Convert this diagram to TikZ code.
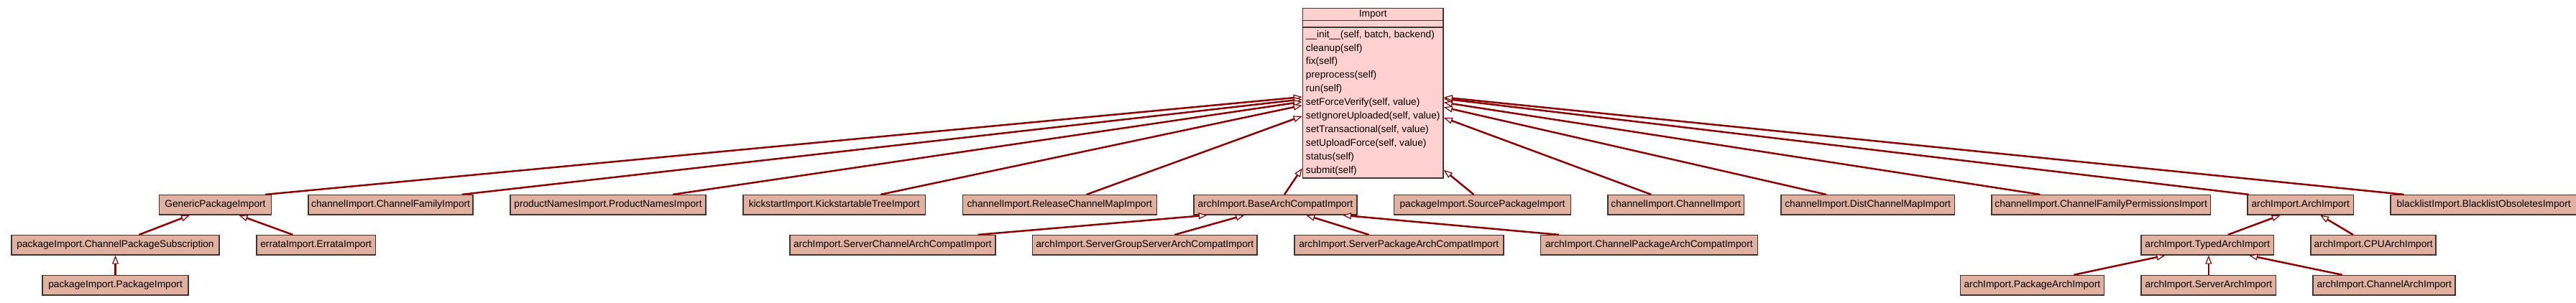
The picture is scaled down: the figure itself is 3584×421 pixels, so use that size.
\documentclass[tikz,border=0pt]{standalone}
\usepackage{fontspec}
\setmainfont{Liberation Sans}
\usetikzlibrary{arrows.meta,positioning,shapes.multipart}
\definecolor{edgered}{HTML}{8B0000}
\definecolor{boxfill}{HTML}{E0B0A0}
\definecolor{importfill}{HTML}{FFD0D0}
\definecolor{boxline}{HTML}{403530}

\begin{document}
\begin{tikzpicture}[x=1pt, y=-1pt, node distance=50.2pt,
  font=\fontsize{13.7}{16}\selectfont,
  cls/.style={draw=boxline, line width=1.5pt, fill=boxfill, inner xsep=3pt, inner ysep=0pt, minimum height=27.3pt, minimum width=#1},
  cls/.default=150pt,
  isa/.style={draw=edgered, line width=2.5pt, -{Triangle[open, fill=white, length=12pt, width=9pt, line width=1.2pt]}}]
  \useasboundingbox (0,0) rectangle (3584,421);
  % base class
  \node[draw=boxline, line width=1.5pt, fill=importfill, rectangle split, rectangle split parts=3, inner xsep=4.5pt, inner ysep=0pt, anchor=north west] (Import) at (1811.7,10.7)
    {\rule[-4pt]{0pt}{15.3pt}Import
     \nodepart{two}\rule{0pt}{8.3pt}
     \nodepart{three}\fontsize{13.7}{18.95}\selectfont\begin{tabular}{@{}l@{}}
       \_\_init\_\_(self, batch, backend)\\ cleanup(self)\\ fix(self)\\ preprocess(self)\\ run(self)\\
       setForceVerify(self, value)\\ setIgnoreUploaded(self, value)\\ setTransactional(self, value)\\
       setUploadForce(self, value)\\ status(self)\\ submit(self)
     \end{tabular}};
  % first row
  \node[cls=156pt, anchor=west] (Generic) at (220.7,285.3) {GenericPackageImport};
  \node[cls=229pt, right=of Generic] (ChannelFamily) {channelImport.ChannelFamilyImport};
  \node[cls=272.3pt, right=of ChannelFamily] (ProductNames) {productNamesImport.ProductNamesImport};
  \node[cls=253.7pt, right=of ProductNames] (Kickstart) {kickstartImport.KickstartableTreeImport};
  \node[cls=270pt, right=of Kickstart] (ReleaseMap) {channelImport.ReleaseChannelMapImport};
  \node[cls=227pt, right=of ReleaseMap] (BaseArch) {archImport.BaseArchCompatImport};
  \node[cls=245.7pt, right=of BaseArch] (SourcePkg) {packageImport.SourcePackageImport};
  \node[cls=189.3pt, right=of SourcePkg] (Channel) {channelImport.ChannelImport};
  \node[cls=241.2pt, right=of Channel] (DistMap) {channelImport.DistChannelMapImport};
  \node[cls=304.4pt, right=of DistMap] (FamilyPerm) {channelImport.ChannelFamilyPermissionsImport};
  \node[cls=147.3pt, right=of FamilyPerm] (Arch) {archImport.ArchImport};
  \node[cls=259pt, right=of Arch] (Blacklist) {blacklistImport.BlacklistObsoletesImport};
  % second row
  \node[cls=289pt, anchor=west] (PkgSubscr) at (15.3,341.3) {packageImport.ChannelPackageSubscription};
  \node[cls=165.7pt, right=of PkgSubscr] (Errata) {errataImport.ErrataImport};
  \node[cls=285.7pt, anchor=west] (SrvChanCompat) at (1098.3,341.3) {archImport.ServerChannelArchCompatImport};
  \node[cls=312.6pt, right=of SrvChanCompat] (SrvGroupCompat) {archImport.ServerGroupServerArchCompatImport};
  \node[cls=291pt, right=of SrvGroupCompat] (SrvPkgCompat) {archImport.ServerPackageArchCompatImport};
  \node[cls=301.8pt, right=of SrvPkgCompat] (ChanPkgCompat) {archImport.ChannelPackageArchCompatImport};
  \node[cls=184.4pt, anchor=west] (TypedArch) at (2978.3,341.3) {archImport.TypedArchImport};
  \node[cls=174pt, right=of TypedArch] (CPUArch) {archImport.CPUArchImport};
  % third row
  \node[cls=203pt, anchor=west] (Package) at (58.3,397.2) {packageImport.PackageImport};
  \node[cls=200.2pt, anchor=west] (PkgArch) at (2726.5,397.2) {archImport.PackageArchImport};
  \node[cls=187.3pt, right=of PkgArch] (SrvArch) {archImport.ServerArchImport};
  \node[cls=198pt, right=of SrvArch] (ChanArch) {archImport.ChannelArchImport};
  % inheritance to Import
  \draw[isa] ([xshift=69.6pt]Generic.north) -- ([yshift=-124.3pt]Import.north west);
  \draw[isa] ([xshift=99pt]ChannelFamily.north) -- ([yshift=-127.6pt]Import.north west);
  \draw[isa] ([xshift=90.2pt]ProductNames.north) -- ([yshift=-131pt]Import.north west);
  \draw[isa] ([xshift=64.5pt]Kickstart.north) -- ([yshift=-136pt]Import.north west);
  \draw[isa] ([xshift=37.5pt]ReleaseMap.north) -- ([yshift=-151pt]Import.north west);
  \draw[isa] ([xshift=12.5pt]BaseArch.north) -- ([yshift=-223.6pt]Import.north west);
  \draw[isa] ([xshift=-12.1pt]SourcePkg.north) -- ([yshift=-226pt]Import.north east);
  \draw[isa] ([xshift=-34.4pt]Channel.north) -- ([yshift=-153.3pt]Import.north east);
  \draw[isa] ([xshift=-57.8pt]DistMap.north) -- ([yshift=-138.6pt]Import.north east);
  \draw[isa] ([xshift=-84.8pt]FamilyPerm.north) -- ([yshift=-132pt]Import.north east);
  \draw[isa] ([xshift=-72pt]Arch.north) -- ([yshift=-126.8pt]Import.north east);
  \draw[isa] ([xshift=-111pt]Blacklist.north) -- ([yshift=-124.8pt]Import.north east);
  % second level
  \draw[isa] ([xshift=32.9pt]PkgSubscr.north) -- ([xshift=-35.4pt]Generic.south);
  \draw[isa] ([xshift=-32.2pt]Errata.north) -- ([xshift=33pt]Generic.south);
  \draw[isa] (Package.north) -- (PkgSubscr.south);
  \draw[isa] ([xshift=118.8pt]SrvChanCompat.north) -- ([xshift=-94.8pt]BaseArch.south);
  \draw[isa] ([xshift=41.7pt]SrvGroupCompat.north) -- ([xshift=-43.2pt]BaseArch.south);
  \draw[isa] ([xshift=-41.5pt]SrvPkgCompat.north) -- ([xshift=42.8pt]BaseArch.south);
  \draw[isa] ([xshift=-125.6pt]ChanPkgCompat.north) -- ([xshift=93.5pt]BaseArch.south);
  \draw[isa] ([xshift=28.5pt]TypedArch.north) -- ([xshift=-28pt]Arch.south);
  \draw[isa] ([xshift=-28.3pt]CPUArch.north) -- ([xshift=27.4pt]Arch.south);
  % third level
  \draw[isa] ([xshift=58.1pt]PkgArch.north) -- ([xshift=-58.8pt]TypedArch.south);
  \draw[isa] (SrvArch.north) -- (SrvArch.north |- TypedArch.south);
  \draw[isa] ([xshift=-58.3pt]ChanArch.north) -- ([xshift=57.8pt]TypedArch.south);
\end{tikzpicture}
\end{document}
